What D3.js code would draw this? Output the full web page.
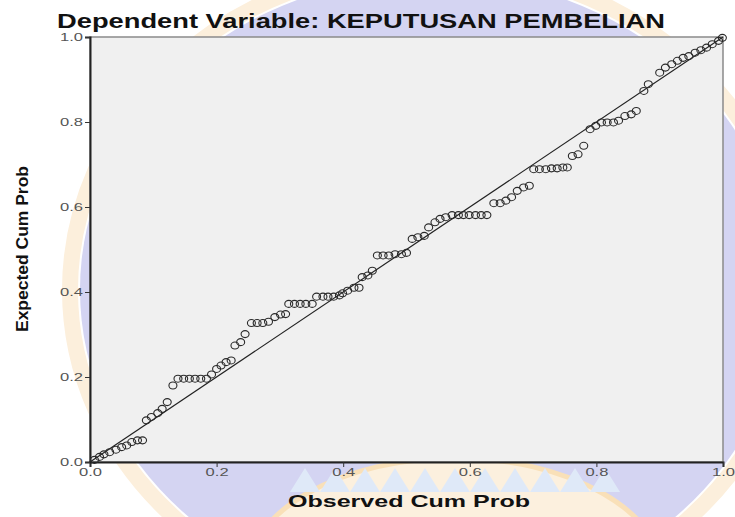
<!DOCTYPE html>
<html>
<head>
<meta charset="utf-8">
<script src="https://d3js.org/d3.v7.min.js"></script>
<style>
  body { margin: 0; background: #fff; }
  svg { display: block; font-family: "Liberation Sans", Arial, sans-serif; }
</style>
</head>
<body>
<div id="chart"></div>
<script>
// observed cumulative probability (x) and expected cumulative probability (y)
var observed = [
  0.007, 0.015, 0.022, 0.031, 0.041, 0.050, 0.058, 0.066, 0.075, 0.083,
  0.089, 0.097, 0.107, 0.114, 0.122, 0.131,
  0.139, 0.148, 0.157, 0.166, 0.175, 0.184,
  0.192, 0.200, 0.207, 0.215, 0.223,
  0.229, 0.238, 0.245,
  0.255, 0.264, 0.273, 0.282, 0.292, 0.301, 0.309,
  0.314, 0.323, 0.332, 0.341, 0.351,
  0.358, 0.368, 0.376, 0.385, 0.394,
  0.399, 0.407, 0.417, 0.425,
  0.430, 0.439, 0.446,
  0.454, 0.463, 0.472, 0.482, 0.492, 0.500,
  0.509, 0.518, 0.528, 0.535, 0.545, 0.553, 0.562,
  0.572, 0.582, 0.590, 0.599, 0.609, 0.618, 0.627,
  0.638, 0.648, 0.657, 0.666, 0.675, 0.685, 0.694,
  0.701, 0.710, 0.720, 0.729, 0.738, 0.747, 0.754,
  0.762, 0.771, 0.780,
  0.790, 0.799, 0.808, 0.817, 0.827, 0.835,
  0.845, 0.855, 0.863,
  0.875, 0.882,
  0.900, 0.909, 0.919, 0.928, 0.937, 0.946, 0.956, 0.965, 0.974, 0.983, 0.993, 0.999
];
var expected = [
  0.005, 0.012, 0.018, 0.023, 0.029, 0.035, 0.039, 0.047, 0.051, 0.051,
  0.098, 0.106, 0.115, 0.125, 0.141, 0.180,
  0.196, 0.196, 0.196, 0.196, 0.196, 0.196,
  0.206, 0.219, 0.227, 0.235, 0.239,
  0.274, 0.282, 0.301,
  0.327, 0.327, 0.327, 0.330, 0.341, 0.347, 0.348,
  0.372, 0.372, 0.372, 0.372, 0.372,
  0.389, 0.389, 0.389, 0.389, 0.392,
  0.397, 0.403, 0.410, 0.410,
  0.435, 0.439, 0.450,
  0.486, 0.486, 0.486, 0.489, 0.489, 0.492,
  0.525, 0.529, 0.532, 0.552, 0.564, 0.572, 0.576,
  0.581, 0.581, 0.581, 0.581, 0.581, 0.581, 0.581,
  0.609, 0.609, 0.615, 0.623, 0.638, 0.646, 0.650,
  0.689, 0.689, 0.689, 0.691, 0.691, 0.693, 0.693,
  0.720, 0.724, 0.744,
  0.783, 0.791, 0.799, 0.799, 0.799, 0.803,
  0.814, 0.818, 0.826,
  0.873, 0.889,
  0.916, 0.928, 0.936, 0.944, 0.951, 0.955, 0.963, 0.969, 0.975, 0.983, 0.991, 0.998
];
var ticks = [0, 0.2, 0.4, 0.6, 0.8, 1.0];

var points = observed.map(function(d, i) { return {x: d, y: expected[i]}; });

var W = 735, H = 517;
var margin = {top: 37, right: 12, bottom: 55, left: 90},
    width = W - margin.left - margin.right,
    height = H - margin.top - margin.bottom;

var svg = d3.select('#chart')
    .append('svg')
    .attr('width', W)
    .attr('height', H);

// faded watermark behind the chart
var wm = svg.append('g');
wm.append('ellipse')
    .attr('cx', 432).attr('cy', 290).attr('rx', 362).attr('ry', 324)
    .style('fill', 'none').style('stroke', '#fcefdc').style('stroke-width', 16);
wm.append('ellipse')
    .attr('cx', 432).attr('cy', 290).attr('rx', 352).attr('ry', 314)
    .style('fill', '#d4d4f2');
wm.append('ellipse')
    .attr('cx', 455).attr('cy', 580).attr('rx', 210).attr('ry', 122)
    .style('fill', '#fcf0de').style('stroke', '#f9e0b8').style('stroke-width', 5);
var zig = d3.range(0, 11).map(function(i) { return 290 + i * 30; });
wm.selectAll('path.petal')
    .data(zig)
    .enter()
    .append('path')
    .attr('class', 'petal')
    .attr('d', function(d) { return `M${d},492 L${d + 15},468 L${d + 30},492 Z`; })
    .style('fill', '#dfe9f8');

var g = svg.append('g')
    .attr('transform', `translate(${margin.left}, ${margin.top})`);

var x = d3.scaleLinear().domain([0, 1]).range([0, width]);
var y = d3.scaleLinear().domain([0, 1]).range([height, 0]);

// plot background
g.append('rect')
    .attr('width', width)
    .attr('height', height)
    .style('fill', '#f0f0f0')
    .style('stroke', '#8a8a8a')
    .style('stroke-width', 1.5);

// axes
var xAxis = g.append('g')
    .attr('transform', `translate(0, ${height})`)
    .call(d3.axisBottom(x).tickValues(ticks).tickSize(5).tickFormat(d3.format('.1f')));
var yAxis = g.append('g')
    .call(d3.axisLeft(y).tickValues(ticks).tickSize(5).tickFormat(d3.format('.1f')));

[xAxis, yAxis].forEach(function(a) {
    a.select('.domain').style('stroke', '#222').style('stroke-width', 2);
    a.selectAll('.tick line').style('stroke', '#333');
    a.selectAll('.tick text')
        .style('font-size', '11px')
        .style('fill', '#555')
        .attr('textLength', 23)
        .attr('lengthAdjust', 'spacingAndGlyphs');
});
xAxis.selectAll('.tick text').attr('dy', '0.55em');
yAxis.selectAll('.tick text').attr('x', -7);

// reference line
g.append('line')
    .attr('x1', x(0)).attr('y1', y(0))
    .attr('x2', x(1)).attr('y2', y(1))
    .style('stroke', '#222')
    .style('stroke-width', 1.2);

// points
g.selectAll('ellipse.pt')
    .data(points)
    .enter()
    .append('ellipse')
    .attr('class', 'pt')
    .attr('cx', function(d) { return x(d.x); })
    .attr('cy', function(d) { return y(d.y); })
    .attr('rx', 4)
    .attr('ry', 3.5)
    .style('fill', 'none')
    .style('stroke', '#2a2a2a')
    .style('stroke-width', 1.1);

// titles
svg.append('text')
    .attr('x', 57).attr('y', 28)
    .attr('textLength', 608)
    .attr('lengthAdjust', 'spacingAndGlyphs')
    .style('font-size', '20px')
    .style('font-weight', 'bold')
    .style('fill', '#111')
    .text('Dependent Variable: KEPUTUSAN PEMBELIAN');

svg.append('text')
    .attr('x', 288).attr('y', 507)
    .attr('textLength', 242)
    .attr('lengthAdjust', 'spacingAndGlyphs')
    .style('font-size', '17px')
    .style('font-weight', 'bold')
    .style('fill', '#111')
    .text('Observed Cum Prob');

svg.append('text')
    .attr('transform', 'translate(28, 332) rotate(-90)')
    .attr('textLength', 166)
    .attr('lengthAdjust', 'spacingAndGlyphs')
    .style('font-size', '16px')
    .style('font-weight', 'bold')
    .style('fill', '#111')
    .text('Expected Cum Prob');
</script>
</body>
</html>
